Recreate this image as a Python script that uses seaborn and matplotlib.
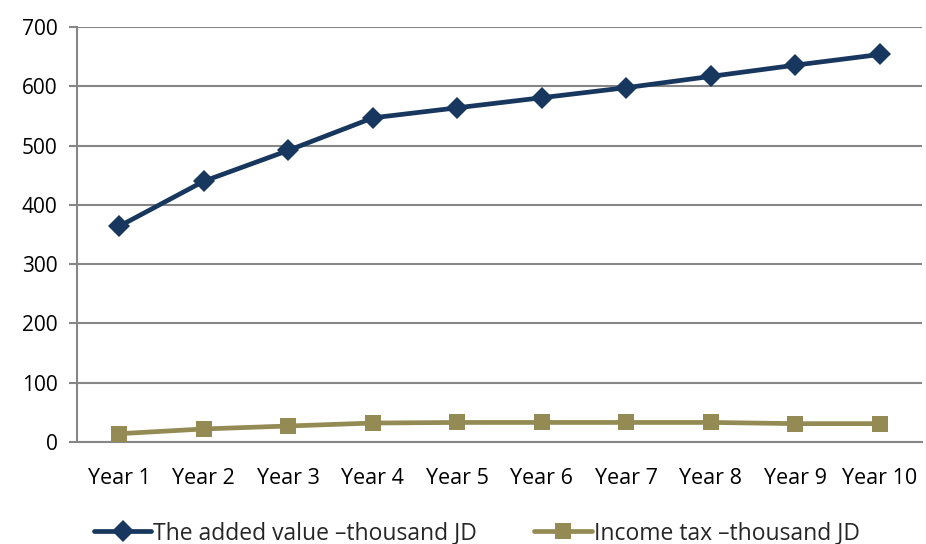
import matplotlib
matplotlib.use("Agg")
import matplotlib.pyplot as plt
import seaborn as sns
import pandas as pd
import numpy as np
from matplotlib.ticker import FixedLocator

years = ["Year 1", "Year 2", "Year 3", "Year 4", "Year 5",
         "Year 6", "Year 7", "Year 8", "Year 9", "Year 10"]
added_value = [364, 440, 492, 547, 564, 581, 598, 617, 636, 654]
income_tax = [14, 22, 27, 32, 33, 33, 33, 33, 31, 31]
series_names = ["The added value \u2013thousand JD", "Income tax \u2013thousand JD"]
y_ticks = [0, 100, 200, 300, 400, 500, 600, 700]

sns.set_style("white")
plt.rcParams["font.family"] = ["Open Sans", "DejaVu Sans"]

df = pd.DataFrame({
    "pos": list(range(len(years))) * 2,
    "value": added_value + income_tax,
    "series": [series_names[0]] * len(years) + [series_names[1]] * len(years),
})

fig = plt.figure(figsize=(9.26, 5.44), dpi=100)
ax = fig.add_axes([0.083, 0.1875, 0.913, 0.7625])

palette = {series_names[0]: "#17375E", series_names[1]: "#948A54"}
markers = {series_names[0]: "D", series_names[1]: "s"}
sns.lineplot(data=df, x="pos", y="value", hue="series", style="series",
             palette=palette, markers=markers, dashes=False, markersize=11,
             markeredgewidth=0, linewidth=3.4, ax=ax, zorder=3)

ax.set_xlim(-0.5, len(years) - 0.5)
ax.set_ylim(0, 700)
ax.set_yticks(y_ticks)
ax.set_xticks(range(len(years)))
ax.set_xticklabels(years)
ax.xaxis.set_minor_locator(FixedLocator(np.arange(-0.5, len(years), 1.0)))
ax.tick_params(axis="x", which="major", length=0, labelsize=15.5, pad=19, colors="#000000")
ax.tick_params(axis="x", which="minor", length=6, width=1.5, color="#868686", direction="out")
ax.tick_params(axis="y", which="major", length=6, width=1.5, color="#868686", labelsize=15,
               pad=8, labelcolor="#000000", left=True)
ax.set_xlabel("")
ax.set_ylabel("")

ax.grid(axis="y", color="#868686", linewidth=1.5, zorder=0)
ax.set_axisbelow(True)
for side in ["top", "right"]:
    ax.spines[side].set_visible(False)
for side in ["left", "bottom"]:
    ax.spines[side].set_color("#868686")
    ax.spines[side].set_linewidth(1.5)

handles, labels = ax.get_legend_handles_labels()
ax.legend(handles, labels, loc="center", bbox_to_anchor=(0.515, 0.02),
          bbox_transform=fig.transFigure, ncol=2, frameon=False, fontsize=16.5,
          handlelength=2.5, handletextpad=0.08, columnspacing=2.5,
          borderaxespad=0, borderpad=0)

fig.savefig("out.png", dpi=100)
